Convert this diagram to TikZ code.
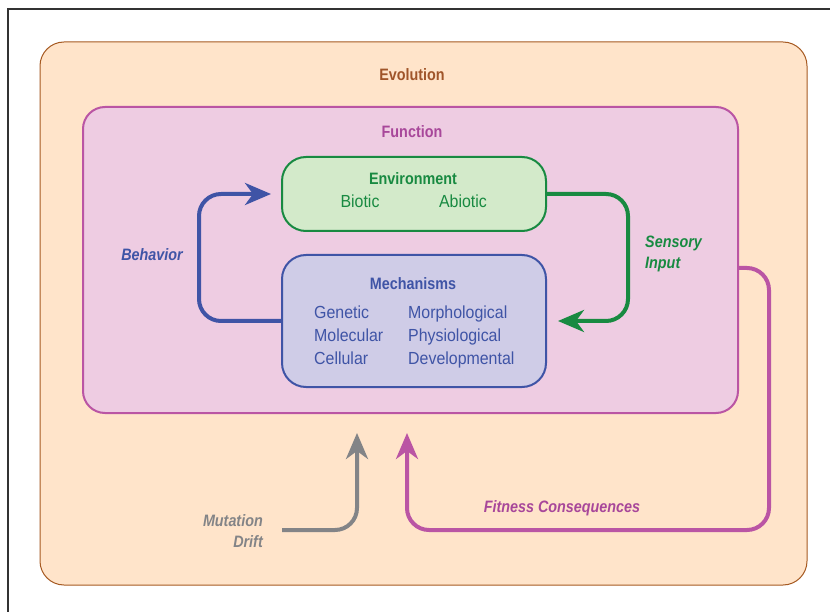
\documentclass[tikz,border=0pt]{standalone}
\usepackage{fontspec}
\setmainfont[FakeStretch=0.87]{Liberation Sans}
\newfontfamily\itemfont[FakeStretch=0.91]{Liberation Sans}
\usetikzlibrary{arrows.meta,calc}
\definecolor{evofill}{HTML}{FFE4CA}
\definecolor{evodraw}{HTML}{A65A22}
\definecolor{evotext}{HTML}{A0552A}
\definecolor{funcfill}{HTML}{EECCE2}
\definecolor{funcdraw}{HTML}{BA55A4}
\definecolor{functext}{HTML}{A8479A}
\definecolor{envfill}{HTML}{D3EACA}
\definecolor{envgreen}{HTML}{188A41}
\definecolor{mechfill}{HTML}{CFCCE7}
\definecolor{mechblue}{HTML}{3F54A6}
\definecolor{arrgray}{HTML}{838487}
\tikzset{
  box/.style={rounded corners=24pt, inner sep=0pt},
  evobox/.style={box, fill=evofill, draw=evodraw, line width=1pt},
  funcbox/.style={box, rounded corners=22pt, fill=funcfill, draw=funcdraw, line width=2pt},
  envbox/.style={box, fill=envfill, draw=envgreen, line width=2pt},
  mechbox/.style={box, fill=mechfill, draw=mechblue, line width=2pt},
  ttl/.style={font=\fontsize{16.5}{19}\selectfont\bfseries, inner sep=0pt},
  itm/.style={font=\itemfont\fontsize{17.5}{23}\selectfont, inner sep=0pt},
  lab/.style={font=\fontsize{16.5}{21}\selectfont\bfseries\itshape, inner sep=0pt},
  flow/.style={line width=4pt, rounded corners=22pt, -{Stealth[length=26pt,width=22pt,inset=8pt]}},
}
\begin{document}
\begin{tikzpicture}[x=1pt,y=-1pt]
\useasboundingbox (0,0) rectangle (830,612);
\fill[white] (0,0) rectangle (830,612);
\draw[line width=1.5pt, black!80] (8,612) -- (8,9) -- (830,9);
% boxes
\node[evobox, minimum width=767pt, minimum height=543pt] (evo) at (423.5,313.5) {};
\node[funcbox, minimum width=655pt, minimum height=306pt] (func) at (410.5,260) {};
\node[envbox, minimum width=264pt, minimum height=74pt] (env) at (414,194) {};
\node[mechbox, minimum width=264pt, minimum height=132pt] (mech) at (414,321) {};
% titles
\node[ttl, text=evotext] (evot) at (412,75) {Evolution};
\node[ttl, text=functext] (funct) at (412,132) {Function};
\node[ttl, text=envgreen] (envt) at (413,179) {Environment};
\node[itm, text=envgreen] (biotic) at (360,201.5) {Biotic};
\node[itm, text=envgreen] (abiotic) at (463,201.5) {Abiotic};
\node[ttl, text=mechblue] (mecht) at (413,284) {Mechanisms};
\node[itm, text=mechblue, anchor=north west, align=left] (mcol1) at (314,306) {Genetic\\Molecular\\Cellular};
\node[itm, text=mechblue, anchor=north west, align=left] (mcol2) at (408,306) {Morphological\\Physiological\\Developmental};
% labels
\node[lab, text=mechblue] (beh) at (152,255) {Behavior};
\node[lab, text=envgreen, anchor=west, align=left] (sens) at (645,254) {Sensory\\Input};
\node[lab, text=functext] (fit) at (562,508) {Fitness Consequences};
\node[lab, text=arrgray, anchor=east, align=right] (mut) at (263,531) {Mutation\\Drift};
% connectors
\draw[flow, draw=mechblue] (mech.west) -- ++(-82,0) |- ([xshift=-10pt]env.west);
\draw[flow, draw=envgreen] (env.east) -- ++(81,0) |- ([xshift=11pt]mech.east);
\draw[flow, draw=funcdraw] ($(func.east)+(0,8)$) -- ++(30,0) |- (407,530) -- ($(func.south)+(-3.5,19)$);
\coordinate (gstart) at (282,530);
\draw[flow, draw=arrgray] (gstart) -| ($(func.south)+(-53.5,19)$);
\end{tikzpicture}
\end{document}
